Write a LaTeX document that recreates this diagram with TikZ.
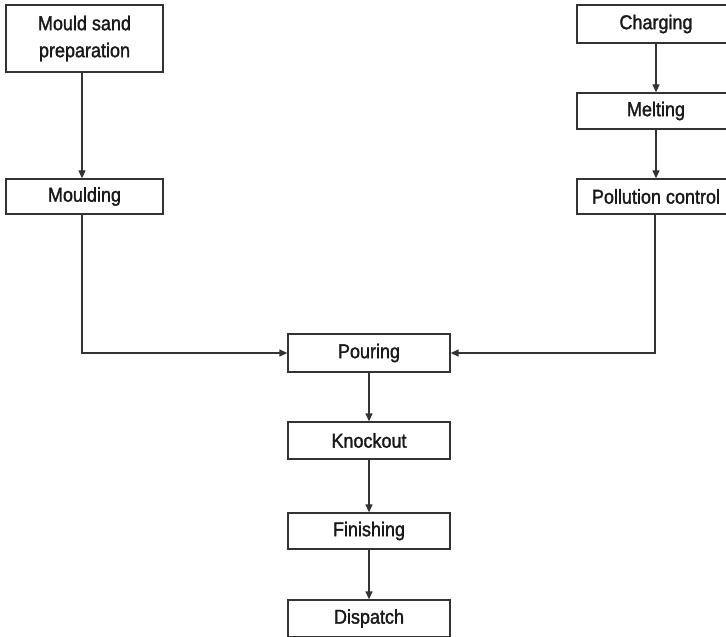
\documentclass[tikz,border=0pt]{standalone}
\usepackage{fontspec}
\setmainfont{Liberation Sans}[UprightFeatures={FakeBold=1.6},FakeStretch=0.9]
\usetikzlibrary{arrows.meta}
\tikzset{
  box/.style={draw=black!80, line width=1.3pt, rectangle, inner sep=0pt, align=center,
    font=\fontsize{20}{27}\selectfont, text=black!90},
  conn/.style={draw=black!80, line width=1.2pt, -{Triangle[length=8pt,width=7pt]}},
}
\begin{document}
\begin{tikzpicture}[x=1pt,y=-1pt]
\useasboundingbox (0,0) rectangle (726,637);
\begin{scope}
\clip (0,0) rectangle (726,637);
\node[box, line width=2.3pt, minimum width=157pt, minimum height=67pt] (msp) at (84.5,38.5) {Mould sand\\preparation};
\node[box, minimum width=157pt, minimum height=35pt] (mould) at (84.5,196.5) {Moulding};
\node[box, minimum width=158pt, minimum height=38pt] (charg) at (656,24) {Charging};
\node[box, minimum width=158pt, minimum height=36pt] (melt) at (656,111) {Melting};
\node[box, minimum width=158pt, minimum height=35pt] (poll) at (656,196.5) {Pollution control};
\node[box, minimum width=162pt, minimum height=38pt] (pour) at (369,353) {Pouring};
\node[box, minimum width=162pt, minimum height=37pt] (knock) at (369,440.5) {Knockout};
\node[box, minimum width=162pt, minimum height=36pt] (fin) at (369,531) {Finishing};
\node[box, minimum width=162pt, minimum height=37pt] (disp) at (369,618.5) {Dispatch};

\draw[conn] (msp.south -| 82,0) -- (mould.north -| 82,0);
\draw[conn] (charg) -- (melt);
\draw[conn] (melt) -- (poll);
\draw[conn] (mould.south -| 82,0) |- (pour.west);
\draw[conn] (poll.south -| 655,0) |- (pour.east);
\draw[conn] (pour) -- (knock);
\draw[conn] (knock) -- (fin);
\draw[conn] (fin) -- (disp);
\end{scope}
\end{tikzpicture}
\end{document}
